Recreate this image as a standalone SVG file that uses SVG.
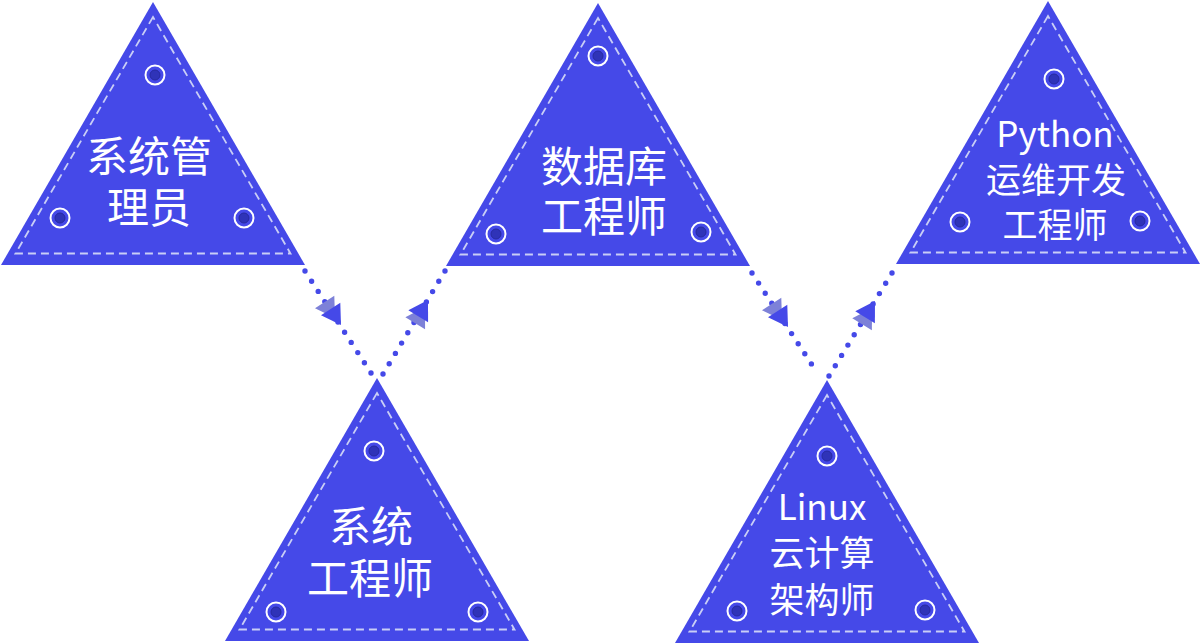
<svg xmlns="http://www.w3.org/2000/svg" width="1200" height="644" viewBox="0 0 1200 644">
<style>
.tri{fill:#4549E8;}
.stitch{fill:none;stroke:#C9CEF6;stroke-width:1.8;stroke-dasharray:8 5;}
.ring{fill:none;stroke:#FFFFFF;stroke-width:2;}
.dot{fill:#2F33B8;stroke:#272AA0;stroke-width:1;}
.lbl{font-family:"Noto Sans CJK SC","Noto Sans",sans-serif;fill:#FFFFFF;text-anchor:middle;}
.big{font-size:42px;}
.small{font-size:35px;}
.conn{fill:none;stroke:#4549E8;stroke-width:5.4;stroke-linecap:round;stroke-dasharray:0 1;}
.ah{fill:#4549E8;}
.ahs{fill:#7D81D8;}
</style>
<defs>
<polygon id="tshape" points="0,0 -152,263 152,263"/>
<polygon id="tstitch" points="0,15 -137.5,251.5 137.5,251.5"/>
<polygon id="arrow" points="0,0 -19,-11.5 -19,11.5"/>
<g id="bolt"><circle r="9.5" class="ring"/><circle r="5" class="dot"/></g>
</defs>

<g id="connectors">
<path class="conn" pathLength="10" d="M305,271 L371,373"/>
<path class="conn" pathLength="10" d="M383,374 L445,271"/>
<path class="conn" pathLength="10" d="M752,273 L818,374"/>
<path class="conn" pathLength="10" d="M829,376 L892,273"/>
<use href="#arrow" class="ahs" transform="translate(335,318) rotate(57)"/>
<use href="#arrow" class="ah" transform="translate(341,325) rotate(57)"/>
<use href="#arrow" class="ahs" transform="translate(425,307) rotate(-59)"/>
<use href="#arrow" class="ah" transform="translate(428,300) rotate(-59)"/>
<use href="#arrow" class="ahs" transform="translate(782,320) rotate(57)"/>
<use href="#arrow" class="ah" transform="translate(788,327) rotate(57)"/>
<use href="#arrow" class="ahs" transform="translate(872,308) rotate(-58.5)"/>
<use href="#arrow" class="ah" transform="translate(875,301) rotate(-58.5)"/>
</g>

<g id="node-sysadmin">
<use href="#tshape" class="tri" transform="translate(153,2)"/>
<use href="#tstitch" class="stitch" transform="translate(153,2)"/>
<use href="#bolt" transform="translate(155,75)"/>
<use href="#bolt" transform="translate(60,218)"/>
<use href="#bolt" transform="translate(244,218)"/>
<text class="lbl big" x="149" y="172">系统管</text>
<text class="lbl big" x="149" y="223">理员</text>
</g>

<g id="node-dba">
<use href="#tshape" class="tri" transform="translate(598,3)"/>
<use href="#tstitch" class="stitch" transform="translate(598,3)"/>
<use href="#bolt" transform="translate(598,56)"/>
<use href="#bolt" transform="translate(496,234)"/>
<use href="#bolt" transform="translate(701,232)"/>
<text class="lbl big" x="604" y="182">数据库</text>
<text class="lbl big" x="604" y="232">工程师</text>
</g>

<g id="node-python">
<use href="#tshape" class="tri" transform="translate(1048,1)"/>
<use href="#tstitch" class="stitch" transform="translate(1048,1)"/>
<use href="#bolt" transform="translate(1054,79)"/>
<use href="#bolt" transform="translate(960,222)"/>
<use href="#bolt" transform="translate(1140,221)"/>
<text class="lbl small" x="1055" y="147">Python</text>
<text class="lbl small" x="1056" y="193">运维开发</text>
<text class="lbl small" x="1055" y="238">工程师</text>
</g>

<g id="node-syseng">
<use href="#tshape" class="tri" transform="translate(377,378)"/>
<use href="#tstitch" class="stitch" transform="translate(377,378)"/>
<use href="#bolt" transform="translate(374,451)"/>
<use href="#bolt" transform="translate(276,612)"/>
<use href="#bolt" transform="translate(478,612)"/>
<text class="lbl big" x="371" y="542">系统</text>
<text class="lbl big" x="370" y="594">工程师</text>
</g>

<g id="node-linux">
<use href="#tshape" class="tri" transform="translate(827,380)"/>
<use href="#tstitch" class="stitch" transform="translate(827,380)"/>
<use href="#bolt" transform="translate(827,456)"/>
<use href="#bolt" transform="translate(737,611)"/>
<use href="#bolt" transform="translate(925,610)"/>
<text class="lbl small" x="822" y="520">Linux</text>
<text class="lbl small" x="822" y="566">云计算</text>
<text class="lbl small" x="822" y="613">架构师</text>
</g>
</svg>
